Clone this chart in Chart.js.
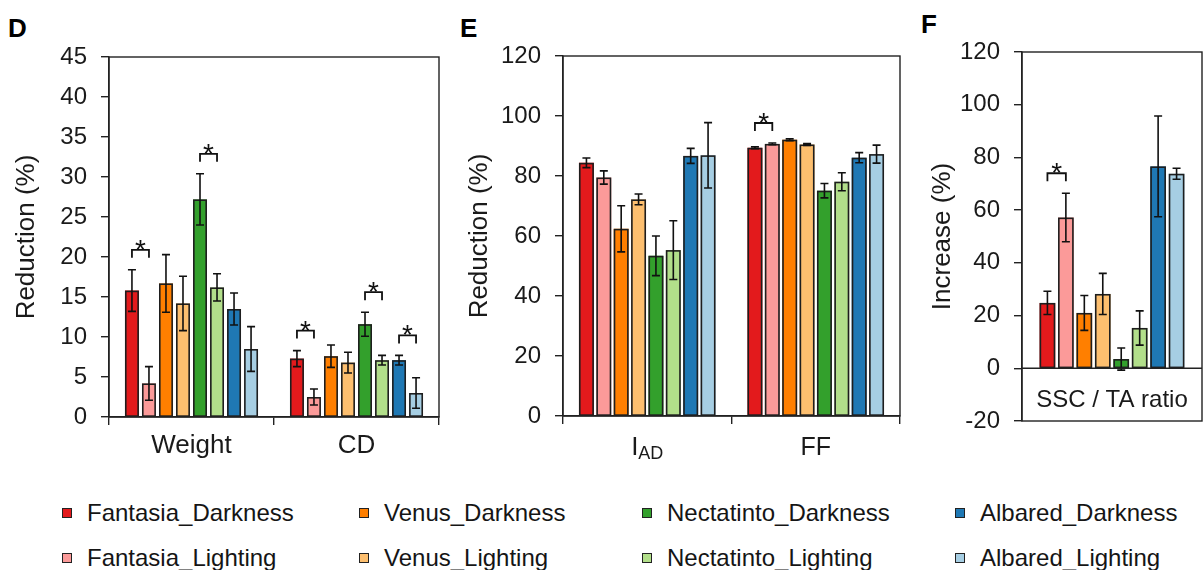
<!DOCTYPE html>
<html>
<head>
<meta charset="utf-8">
<script src="https://cdn.jsdelivr.net/npm/chart.js@4.4.0/dist/chart.umd.min.js"></script>
<style>
  html, body { margin: 0; padding: 0; background: #fff; }
  body { width: 1203px; height: 570px; overflow: hidden; position: relative; font-family: "Liberation Sans", Arial, sans-serif; }
  canvas { position: absolute; top: 0; }
  .plabel { position: absolute; font-weight: bold; font-size: 26px; line-height: 26px; color: #000; }
  .ltext { position: absolute; font-size: 24px; line-height: 24px; color: #151515; white-space: nowrap; }
  .lsw { position: absolute; width: 8px; height: 8px; border: 1.6px solid #222; }
</style>
</head>
<body>
<div class="plabel" style="left:8px;top:15px;">D</div>
<div class="plabel" style="left:460px;top:15px;">E</div>
<div class="plabel" style="left:921px;top:11px;">F</div>
<canvas id="cD" width="450" height="480" style="left:0px;"></canvas>
<canvas id="cE" width="460" height="480" style="left:450px;"></canvas>
<canvas id="cF" width="303" height="480" style="left:900px;"></canvas>
<div id="legend"></div>
<script>
// ---------- data ----------
const series = ['Fantasia_Darkness', 'Fantasia_Lighting', 'Venus_Darkness', 'Venus_Lighting',
                'Nectatinto_Darkness', 'Nectatinto_Lighting', 'Albared_Darkness', 'Albared_Lighting'];
const colors = ['#e31a1c', '#fb9a99', '#ff7f00', '#fdbf6f', '#33a02c', '#b2df8a', '#1f78b4', '#a6cee3'];

// Panel D
const dCats = ['Weight', 'CD'];
const dWeightMean = [15.8, 4.2, 16.7, 14.2, 27.2, 16.2, 13.5, 8.5];
const dWeightErr  = [2.6, 2.1, 3.6, 3.4, 3.2, 1.7, 2.0, 2.8];
const dCDMean     = [7.3, 2.5, 7.6, 6.8, 11.6, 7.1, 7.1, 3.0];
const dCDErr      = [1.0, 1.0, 1.4, 1.3, 1.5, 0.6, 0.6, 1.9];
const dSig = [[0, 0, 1], [0, 4, 5], [1, 0, 1], [1, 4, 5], [1, 6, 7]];

// Panel E
const eCats = ['IAD', 'FF'];
const eIADMean = [84.4, 79.5, 62.4, 72.2, 53.4, 55.3, 86.7, 86.9];
const eIADErr  = [1.6, 2.2, 7.7, 1.8, 6.6, 9.8, 2.5, 10.9];
const eFFMean  = [89.4, 90.7, 92.1, 90.5, 75.1, 78.1, 86.1, 87.3];
const eFFErr   = [0.3, 0.3, 0.3, 0.3, 2.4, 3.0, 1.7, 3.0];
const eSig = [[1, 0, 1]];

// Panel F
const fCats = ['SSC / TA ratio'];
const fRatioMean = [24.8, 57.2, 21.0, 28.2, 3.5, 15.3, 76.6, 73.8];
const fRatioErr  = [4.4, 9.2, 6.6, 7.8, 4.2, 6.5, 19.1, 2.1];
const fSig = [[0, 0, 1]];

// ---------- rendering ----------
const FONT = '"Liberation Sans", Arial, sans-serif';
const INK = '#222';
Chart.defaults.font.family = FONT;

const decorPlugin = {
  id: 'decor',
  afterDatasetsDraw(chart, args, o) {
    const ctx = chart.ctx, ys = chart.scales.y;
    ctx.save();
    // bar outlines
    ctx.strokeStyle = '#1e1e1e';
    ctx.lineWidth = 1.6;
    chart.data.datasets.forEach((ds, di) => {
      chart.getDatasetMeta(di).data.forEach((bar) => {
        const p = bar.getProps(['x', 'y', 'base', 'width'], true);
        const l = p.x - p.width / 2 + 0.8, r = p.x + p.width / 2 - 0.8;
        const t = Math.min(p.y, p.base) + 0.8, b = Math.max(p.y, p.base) - 0.2;
        ctx.strokeRect(l, t, r - l, b - t);
      });
    });
    // error bars
    ctx.strokeStyle = '#111';
    ctx.lineWidth = 1.6;
    chart.data.datasets.forEach((ds, di) => {
      const meta = chart.getDatasetMeta(di);
      meta.data.forEach((bar, i) => {
        const v = ds.data[i], e = ds.errs[i];
        const x = bar.x, y1 = ys.getPixelForValue(v + e), y2 = ys.getPixelForValue(v - e);
        ctx.beginPath();
        ctx.moveTo(x, y1); ctx.lineTo(x, y2);
        ctx.moveTo(x - 4, y1); ctx.lineTo(x + 4, y1);
        ctx.moveTo(x - 4, y2); ctx.lineTo(x + 4, y2);
        ctx.stroke();
      });
    });
    // significance brackets
    ctx.lineWidth = 1.8;
    (o.sig || []).forEach(([ci, a, b]) => {
      const ba = chart.getDatasetMeta(a).data[ci], bb = chart.getDatasetMeta(b).data[ci];
      const da = chart.data.datasets[a], db = chart.data.datasets[b];
      const top = Math.min(ys.getPixelForValue(da.data[ci] + da.errs[ci]), ys.getPixelForValue(db.data[ci] + db.errs[ci]));
      const yb = top - 20;
      ctx.beginPath();
      ctx.moveTo(ba.x, yb + 8); ctx.lineTo(ba.x, yb); ctx.lineTo(bb.x, yb); ctx.lineTo(bb.x, yb + 8);
      ctx.stroke();
      ctx.fillStyle = '#111';
      ctx.font = '28px ' + FONT;
      ctx.textAlign = 'center';
      ctx.textBaseline = 'alphabetic';
      ctx.fillText('*', (ba.x + bb.x) / 2, yb + 9);
    });
    ctx.restore();
  },
  afterDraw(chart, args, o) {
    const ctx = chart.ctx, a = chart.chartArea, xs = chart.scales.x, ys = chart.scales.y;
    ctx.save();
    ctx.strokeStyle = INK;
    ctx.lineWidth = 1.4;
    ctx.strokeRect(a.left, a.top, a.right - a.left, a.bottom - a.top);
    ctx.fillStyle = '#1a1a1a';
    if (o.zeroLine) {
      const y0 = ys.getPixelForValue(0);
      ctx.beginPath(); ctx.moveTo(a.left, y0); ctx.lineTo(a.right, y0); ctx.stroke();
      ctx.font = '24px ' + FONT;
      ctx.textAlign = 'center';
      ctx.textBaseline = 'alphabetic';
      chart.data.labels.forEach((lab) => {
        ctx.fillText(lab, (a.left + a.right) / 2, y0 + 39);
      });
    }
    if (o.subLabels) {
      ctx.textBaseline = 'alphabetic';
      ctx.textAlign = 'left';
      chart.data.labels.forEach((lab, i) => {
        const x = xs.getPixelForTick(i);
        const base = xs.top + 39;
        if (o.subLabels[lab]) {
          const [main, sub] = o.subLabels[lab];
          ctx.font = '26px ' + FONT;
          const w1 = ctx.measureText(main).width;
          ctx.font = '18px ' + FONT;
          const w2 = ctx.measureText(sub).width;
          const x0 = x - (w1 + w2) / 2;
          ctx.font = '26px ' + FONT;
          ctx.fillText(main, x0, base);
          ctx.font = '18px ' + FONT;
          ctx.fillText(sub, x0 + w1, base + 4);
        } else {
          ctx.font = '25px ' + FONT;
          ctx.textAlign = 'center';
          ctx.fillText(lab, x, base);
          ctx.textAlign = 'left';
        }
      });
    }
    ctx.restore();
  }
};

function panel(id, cats, means, errs, sig, o) {
  const datasets = series.map((name, s) => ({
    label: name,
    data: means.map(m => m[s]),
    errs: errs.map(e => e[s]),
    backgroundColor: colors[s],
    borderWidth: 0,
    categoryPercentage: o.catPct,
    barPercentage: o.barPct
  }));
  return new Chart(document.getElementById(id), {
    type: 'bar',
    data: { labels: cats, datasets },
    options: {
      responsive: false,
      animation: false,
      layout: { padding: o.pad },
      plugins: {
        legend: { display: false },
        tooltip: { enabled: false },
        decor: { sig, zeroLine: !!o.zeroLine, subLabels: o.subLabels || null }
      },
      scales: {
        x: {
          display: o.xDisplay,
          grid: { display: true, drawOnChartArea: false, drawTicks: true, tickLength: 8, color: INK, lineWidth: 1.4, offset: true },
          border: { display: true, color: INK, width: 1.4 },
          ticks: { font: { size: 26 }, color: o.xTickColor || '#1a1a1a', padding: 5, maxRotation: 0, autoSkip: false },
          afterFit: s => { s.height = o.xHeight; }
        },
        y: {
          min: o.min, max: o.max,
          ticks: { stepSize: o.step, font: { size: 24 }, color: '#1a1a1a', padding: 14 },
          grid: { display: true, drawOnChartArea: false, drawTicks: true, tickLength: 8, color: INK, lineWidth: 1.4 },
          border: { display: true, color: INK, width: 1.4 },
          title: { display: true, text: o.yTitle, font: { size: 26 }, color: '#1a1a1a', padding: { top: o.titlePad, bottom: 0 } },
          afterFit: s => { s.width = o.yWidth; }
        }
      }
    },
    plugins: [decorPlugin]
  });
}

panel('cD', dCats, [dWeightMean, dCDMean], [dWeightErr, dCDErr], dSig, {
  catPct: 0.825, barPct: 0.82, pad: { top: 57, right: 11, left: 0, bottom: 0 },
  xDisplay: true, xHeight: 63, min: 0, max: 45, step: 5, yTitle: 'Reduction (%)', titlePad: 11, yWidth: 109
});
panel('cE', eCats, [eIADMean, eFFMean], [eIADErr, eFFErr], eSig, {
  catPct: 0.825, barPct: 0.86, pad: { top: 56, right: 10, left: 0, bottom: 0 },
  xDisplay: true, xHeight: 64, min: 0, max: 120, step: 20, yTitle: 'Reduction (%)', titlePad: 14, yWidth: 113,
  xTickColor: 'rgba(0,0,0,0)', subLabels: { 'IAD': ['I', 'AD'] }
});
panel('cF', fCats, [fRatioMean], [fRatioErr], fSig, {
  catPct: 0.82, barPct: 0.85, pad: { top: 52, right: 1, left: 0, bottom: 59 },
  xDisplay: false, xHeight: 0, min: -20, max: 120, step: 20, yTitle: 'Increase (%)', titlePad: 27, yWidth: 122,
  zeroLine: true
});

// ---------- legend (HTML) ----------
const legCols = [62, 359, 642, 955];
const legRowsSq = [508, 553];
const legRowsText = [501, 545.5];
const legend = document.getElementById('legend');
series.forEach((name, s) => {
  const col = Math.floor(s / 2), row = s % 2;
  const sw = document.createElement('div');
  sw.className = 'lsw';
  sw.style.left = legCols[col] + 'px';
  sw.style.top = legRowsSq[row] + 'px';
  sw.style.background = colors[s];
  legend.appendChild(sw);
  const t = document.createElement('div');
  t.className = 'ltext';
  t.style.left = (legCols[col] + 25) + 'px';
  t.style.top = legRowsText[row] + 'px';
  t.textContent = name;
  legend.appendChild(t);
});
</script>
</body>
</html>
